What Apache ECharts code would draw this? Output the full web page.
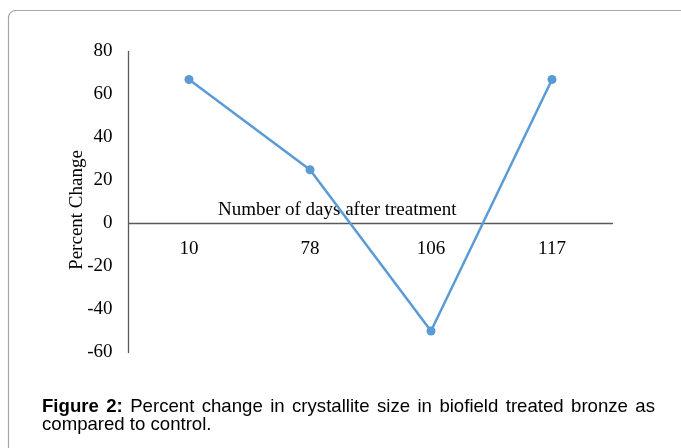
<!DOCTYPE html>
<html><head><meta charset="utf-8">
<script src="https://cdn.jsdelivr.net/npm/echarts@6/dist/echarts.min.js"></script>
<style>html,body{margin:0;padding:0;background:#fff}#c{width:681px;height:448px}</style>
</head><body><div id="c"></div>
<script>
var categories = ['10', '78', '106', '117'];
var percentChange = [67, 25, -50, 67];
var yTicks = [-60, -40, -20, 0, 20, 40, 60, 80];
var yAxisTitle = 'Percent Change';
var xAxisTitle = 'Number of days after treatment';
var captionBold = 'Figure 2:';
var captionLine1 = 'Percent change in crystallite size in biofield treated bronze as';
var captionLine2 = 'compared to control.';

var chart = echarts.init(document.getElementById('c'));
var serif = '"Liberation Serif", "Times New Roman", serif';
var sans = '"Liberation Sans", Arial, sans-serif';

var gridTop = 51.5, gridBottom = 95.5, H = 448;
var plotH = H - gridTop - gridBottom;
var yMin = yTicks[0], yMax = yTicks[yTicks.length - 1];
// place the category axis on the zero line (offset up from grid bottom)
var zeroOffset = plotH * (0 - yMin) / (yMax - yMin);

// justified caption line 1 laid out from measured word widths
var capFont = 18.6;
var cv = document.createElement('canvas').getContext('2d');
var words = [];
captionBold.split(' ').forEach(function (w) { words.push({ t: w, b: true }); });
captionLine1.split(' ').forEach(function (w) { words.push({ t: w, b: false }); });
var total = 0;
words.forEach(function (w) {
  cv.font = (w.b ? 'bold ' : '') + capFont + 'px ' + sans;
  w.w = cv.measureText(w.t).width; total += w.w;
});
var capLeft = 42, capRight = 655;
var gap = (capRight - capLeft - total) / (words.length - 1);
var graphics = [
  { type: 'rect', shape: { x: 8.5, y: 10.5, width: 720, height: 480, r: 7 },
    style: { fill: 'none', stroke: '#a6a6a6', lineWidth: 1.2 }, silent: true },
  { type: 'text', left: 218, top: 201,
    style: { text: xAxisTitle, font: '19px ' + serif, fill: '#000' } },
  { type: 'text', left: capLeft, top: 415,
    style: { text: captionLine2, font: capFont + 'px ' + sans, fill: '#000' } }
];
var cx = capLeft;
words.forEach(function (w) {
  graphics.push({ type: 'text', left: cx, top: 397,
    style: { text: w.t, font: (w.b ? 'bold ' : '') + capFont + 'px ' + sans, fill: '#000' } });
  cx += w.w + gap;
});

chart.setOption({
  animation: false,
  backgroundColor: '#fff',
  grid: { left: 128.5, right: 68.5, top: gridTop, bottom: gridBottom },
  xAxis: {
    type: 'category',
    data: categories,
    boundaryGap: true,
    position: 'bottom',
    offset: -zeroOffset,
    axisLine: { onZero: false, lineStyle: { color: '#595959', width: 1.3 } },
    axisTick: { show: false },
    axisLabel: { color: '#000', fontFamily: serif, fontSize: 19, margin: 16 },
    splitLine: { show: false }
  },
  yAxis: {
    type: 'value',
    min: yMin, max: yMax, interval: 20,
    name: yAxisTitle,
    nameLocation: 'middle',
    nameGap: 42,
    nameMoveOverlap: false,
    nameTextStyle: { color: '#000', fontFamily: serif, fontSize: 19, padding: [0, 16, 0, 0] },
    axisLine: { show: true, lineStyle: { color: '#595959', width: 1.3 } },
    axisTick: { show: false },
    axisLabel: { color: '#000', fontFamily: serif, fontSize: 19, margin: 16 },
    splitLine: { show: false }
  },
  series: [{
    type: 'line',
    data: percentChange,
    symbol: 'circle',
    symbolSize: 9,
    lineStyle: { color: '#5B9BD5', width: 2.5 },
    itemStyle: { color: '#5B9BD5' }
  }],
  graphic: graphics
});
</script></body></html>
